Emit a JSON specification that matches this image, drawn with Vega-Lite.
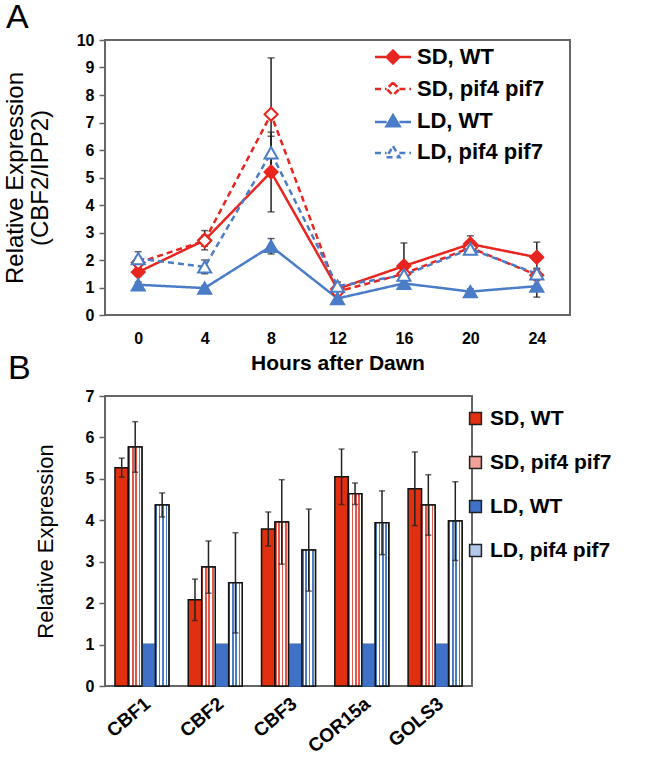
{
  "$schema": "https://vega.github.io/schema/vega-lite/v6.json",
  "padding": {"left": 2, "top": 0, "right": 0, "bottom": 0},
  "spacing": -23,
  "resolve": {
    "scale": {"color": "independent", "fill": "independent", "stroke": "independent", "strokeDash": "independent", "shape": "independent"},
    "legend": {"color": "independent", "fill": "independent", "stroke": "independent", "strokeDash": "independent", "shape": "independent"}
  },
  "config": {
    "font": "Liberation Sans",
    "view": {"stroke": "#666", "strokeWidth": 2},
    "axis": {"labelColor": "black", "titleColor": "black", "grid": false, "domain": false, "tickColor": "#666", "tickWidth": 1.5, "labelFont": "Liberation Sans", "titleFont": "Liberation Sans", "labelOverlap": false},
    "axisY": {"tickCount": 10, "labelFontSize": 16, "labelFontWeight": "bold", "tickSize": 6, "labelPadding": 5, "format": "d"},
    "legend": {"labelFont": "Liberation Sans", "labelColor": "black", "labelFontWeight": "bold", "labelLimit": 300}
  },
  "datasets": {
    "timecourse": [
      {"time": 0, "series": "SD, WT", "value": 1.56, "lo": 1.41, "hi": 1.71},
      {"time": 4, "series": "SD, WT", "value": 2.72, "lo": 2.37, "hi": 3.07},
      {"time": 8, "series": "SD, WT", "value": 5.2, "lo": 3.75, "hi": 6.65},
      {"time": 12, "series": "SD, WT", "value": 0.95, "lo": 0.85, "hi": 1.05},
      {"time": 16, "series": "SD, WT", "value": 1.78, "lo": 0.98, "hi": 2.62},
      {"time": 20, "series": "SD, WT", "value": 2.58, "lo": 2.28, "hi": 2.88},
      {"time": 24, "series": "SD, WT", "value": 2.1, "lo": 1.55, "hi": 2.65},
      {"time": 0, "series": "SD, pif4 pif7", "value": 1.9, "lo": 1.7, "hi": 2.1},
      {"time": 4, "series": "SD, pif4 pif7", "value": 2.7, "lo": 2.5, "hi": 2.9},
      {"time": 8, "series": "SD, pif4 pif7", "value": 7.3, "lo": 5.25, "hi": 9.35},
      {"time": 12, "series": "SD, pif4 pif7", "value": 0.85, "lo": 0.75, "hi": 0.95},
      {"time": 16, "series": "SD, pif4 pif7", "value": 1.5, "lo": 1.3, "hi": 1.7},
      {"time": 20, "series": "SD, pif4 pif7", "value": 2.45, "lo": 2.25, "hi": 2.65},
      {"time": 24, "series": "SD, pif4 pif7", "value": 1.45, "lo": 1.25, "hi": 1.65},
      {"time": 0, "series": "LD, WT", "value": 1.1, "lo": 1.0, "hi": 1.2},
      {"time": 4, "series": "LD, WT", "value": 0.98, "lo": 0.9, "hi": 1.06},
      {"time": 8, "series": "LD, WT", "value": 2.5, "lo": 2.22, "hi": 2.78},
      {"time": 12, "series": "LD, WT", "value": 0.6, "lo": 0.5, "hi": 0.7},
      {"time": 16, "series": "LD, WT", "value": 1.15, "lo": 1.0, "hi": 1.3},
      {"time": 20, "series": "LD, WT", "value": 0.85, "lo": 0.75, "hi": 0.95},
      {"time": 24, "series": "LD, WT", "value": 1.05, "lo": 0.65, "hi": 1.45},
      {"time": 0, "series": "LD, pif4 pif7", "value": 2.05, "lo": 1.8, "hi": 2.3},
      {"time": 4, "series": "LD, pif4 pif7", "value": 1.75, "lo": 1.5, "hi": 2.0},
      {"time": 8, "series": "LD, pif4 pif7", "value": 5.9, "lo": 5.3, "hi": 6.5},
      {"time": 12, "series": "LD, pif4 pif7", "value": 1.05, "lo": 0.9, "hi": 1.2},
      {"time": 16, "series": "LD, pif4 pif7", "value": 1.45, "lo": 1.3, "hi": 1.6},
      {"time": 20, "series": "LD, pif4 pif7", "value": 2.4, "lo": 2.25, "hi": 2.55},
      {"time": 24, "series": "LD, pif4 pif7", "value": 1.5, "lo": 1.3, "hi": 1.7}
    ],
    "genes": [
      {"gene": "CBF1", "series": "SD, WT", "value": 5.27, "lo": 5.04, "hi": 5.5},
      {"gene": "CBF1", "series": "SD, pif4 pif7", "value": 5.77, "lo": 5.16, "hi": 6.38},
      {"gene": "CBF1", "series": "LD, WT", "value": 1.0},
      {"gene": "CBF1", "series": "LD, pif4 pif7", "value": 4.37, "lo": 4.08, "hi": 4.66},
      {"gene": "CBF2", "series": "SD, WT", "value": 2.08, "lo": 1.58, "hi": 2.58},
      {"gene": "CBF2", "series": "SD, pif4 pif7", "value": 2.87, "lo": 2.24, "hi": 3.5},
      {"gene": "CBF2", "series": "LD, WT", "value": 1.0},
      {"gene": "CBF2", "series": "LD, pif4 pif7", "value": 2.49, "lo": 1.28, "hi": 3.7},
      {"gene": "CBF3", "series": "SD, WT", "value": 3.79, "lo": 3.38, "hi": 4.2},
      {"gene": "CBF3", "series": "SD, pif4 pif7", "value": 3.96, "lo": 2.94, "hi": 4.98},
      {"gene": "CBF3", "series": "LD, WT", "value": 1.0},
      {"gene": "CBF3", "series": "LD, pif4 pif7", "value": 3.28, "lo": 2.29, "hi": 4.27},
      {"gene": "COR15a", "series": "SD, WT", "value": 5.05, "lo": 4.38, "hi": 5.72},
      {"gene": "COR15a", "series": "SD, pif4 pif7", "value": 4.64, "lo": 4.38, "hi": 4.9},
      {"gene": "COR15a", "series": "LD, WT", "value": 1.0},
      {"gene": "COR15a", "series": "LD, pif4 pif7", "value": 3.94, "lo": 3.17, "hi": 4.71},
      {"gene": "GOLS3", "series": "SD, WT", "value": 4.76, "lo": 3.87, "hi": 5.65},
      {"gene": "GOLS3", "series": "SD, pif4 pif7", "value": 4.37, "lo": 3.64, "hi": 5.1},
      {"gene": "GOLS3", "series": "LD, WT", "value": 1.0},
      {"gene": "GOLS3", "series": "LD, pif4 pif7", "value": 3.98, "lo": 3.03, "hi": 4.93}
    ]
  },
  "vconcat": [
    {
      "width": 465,
      "height": 275,
      "title": {"text": "A", "anchor": "start", "frame": "group", "fontSize": 34, "fontWeight": "normal", "dx": -99, "offset": -3, "color": "black"},
      "data": {"name": "timecourse"},
      "encoding": {
        "x": {"field": "time", "type": "ordinal", "scale": {"type": "point", "padding": 0.5},
          "axis": {"title": "Hours after Dawn", "labelAngle": 0, "labelFontSize": 16, "labelFontWeight": "bold", "ticks": false, "labelPadding": 15, "titleFontSize": 21, "titleFontWeight": "bold", "titlePadding": 6}}
      },
      "layer": [
        {"mark": {"type": "rule", "color": "#222", "strokeWidth": 1.5},
         "encoding": {"y": {"field": "lo", "type": "quantitative", "scale": {"domain": [0, 10]},
           "axis": {"title": ["Relative Expression", "(CBF2/IPP2)"], "titleFontSize": 24, "titleFontWeight": "normal", "titleLineHeight": 25, "titlePadding": 24}},
           "y2": {"field": "hi"}}},
        {"mark": {"type": "tick", "color": "#222", "size": 7, "thickness": 1.5},
         "encoding": {"y": {"field": "lo", "type": "quantitative"}}},
        {"mark": {"type": "tick", "color": "#222", "size": 7, "thickness": 1.5},
         "encoding": {"y": {"field": "hi", "type": "quantitative"}}},
        {"mark": {"type": "line", "strokeWidth": 2.5},
         "encoding": {
           "y": {"field": "value", "type": "quantitative"},
           "stroke": {"field": "series", "type": "nominal", "scale": {"domain": ["SD, WT", "SD, pif4 pif7", "LD, WT", "LD, pif4 pif7"], "range": ["#e8251f", "#e8251f", "#4a7cc7", "#4a7cc7"]},
             "legend": {"title": null, "orient": "right", "offset": -194, "padding": 5, "symbolSize": 450, "symbolStrokeWidth": 2.5, "symbolOpacity": 1, "labelFontSize": 22, "labelOffset": 12, "rowPadding": 8}},
           "strokeDash": {"field": "series", "type": "nominal", "scale": {"domain": ["SD, WT", "SD, pif4 pif7", "LD, WT", "LD, pif4 pif7"], "range": [[1, 0], [6, 4], [1, 0], [6, 4]]},
             "legend": {"title": null, "orient": "right", "offset": -194, "padding": 5, "symbolSize": 450, "symbolStrokeWidth": 2.5, "symbolOpacity": 1, "labelFontSize": 22, "labelOffset": 12, "rowPadding": 8}}
         }},
        {"transform": [{"filter": "indexof(datum.series, 'SD') === 0"}],
         "mark": {"type": "point", "shape": "diamond", "size": 170, "strokeWidth": 2, "opacity": 1},
         "encoding": {
           "y": {"field": "value", "type": "quantitative"},
           "stroke": {"field": "series", "type": "nominal",
             "legend": {"title": null, "orient": "right", "offset": -194, "padding": 5, "symbolSize": 450, "symbolStrokeWidth": 2.5, "symbolOpacity": 1, "labelFontSize": 22, "labelOffset": 12, "rowPadding": 8}},
           "fill": {"field": "series", "type": "nominal", "scale": {"domain": ["SD, WT", "SD, pif4 pif7", "LD, WT", "LD, pif4 pif7"], "range": ["#e8251f", "white", "#4a7cc7", "white"]},
             "legend": {"title": null, "orient": "right", "offset": -194, "padding": 5, "symbolSize": 450, "symbolStrokeWidth": 2.5, "symbolOpacity": 1, "labelFontSize": 22, "labelOffset": 12, "rowPadding": 8}}
         }},
        {"transform": [{"filter": "indexof(datum.series, 'LD') === 0"}],
         "mark": {"type": "point", "shape": "triangle-up", "size": 170, "strokeWidth": 2, "opacity": 1},
         "encoding": {
           "y": {"field": "value", "type": "quantitative"},
           "stroke": {"field": "series", "type": "nominal",
             "legend": {"title": null, "orient": "right", "offset": -194, "padding": 5, "symbolSize": 450, "symbolStrokeWidth": 2.5, "symbolOpacity": 1, "labelFontSize": 22, "labelOffset": 12, "rowPadding": 8}},
           "fill": {"field": "series", "type": "nominal",
             "legend": {"title": null, "orient": "right", "offset": -194, "padding": 5, "symbolSize": 450, "symbolStrokeWidth": 2.5, "symbolOpacity": 1, "labelFontSize": 22, "labelOffset": 12, "rowPadding": 8}}
         }},
        {"mark": {"type": "point", "opacity": 0, "strokeWidth": 2.5},
         "encoding": {
           "y": {"field": "value", "type": "quantitative"},
           "shape": {"field": "series", "type": "nominal", "scale": {"domain": ["SD, WT", "SD, pif4 pif7", "LD, WT", "LD, pif4 pif7"], "range": ["M-1.7,0L-0.6,0M0.6,0L1.7,0M0,-0.6L0.6,0L0,0.6L-0.6,0Z", "M-1.7,0L-0.6,0M0.6,0L1.7,0M0,-0.6L0.6,0L0,0.6L-0.6,0Z", "M-1.7,0.1L-0.6,0.1M0.6,0.1L1.7,0.1M0,-0.55L0.62,0.5L-0.62,0.5Z", "M-1.7,0.1L-0.6,0.1M0.6,0.1L1.7,0.1M0,-0.55L0.62,0.5L-0.62,0.5Z"]},
             "legend": {"title": null, "orient": "right", "offset": -194, "padding": 5, "symbolSize": 450, "symbolStrokeWidth": 2.5, "symbolOpacity": 1, "labelFontSize": 22, "labelOffset": 12, "rowPadding": 8}},
           "stroke": {"field": "series", "type": "nominal",
             "legend": {"title": null, "orient": "right", "offset": -194, "padding": 5, "symbolSize": 450, "symbolStrokeWidth": 2.5, "symbolOpacity": 1, "labelFontSize": 22, "labelOffset": 12, "rowPadding": 8}},
           "fill": {"field": "series", "type": "nominal",
             "legend": {"title": null, "orient": "right", "offset": -194, "padding": 5, "symbolSize": 450, "symbolStrokeWidth": 2.5, "symbolOpacity": 1, "labelFontSize": 22, "labelOffset": 12, "rowPadding": 8}},
           "strokeDash": {"field": "series", "type": "nominal",
             "legend": {"title": null, "orient": "right", "offset": -194, "padding": 5, "symbolSize": 450, "symbolStrokeWidth": 2.5, "symbolOpacity": 1, "labelFontSize": 22, "labelOffset": 12, "rowPadding": 8}}
         }}
      ]
    },
    {
      "width": 367,
      "height": 290,
      "title": {"text": "B", "anchor": "start", "frame": "group", "fontSize": 34, "fontWeight": "normal", "dx": -97, "offset": 2, "color": "black"},
      "data": {"name": "genes"},
      "encoding": {
        "x": {"field": "gene", "type": "nominal", "scale": {"domain": ["CBF1", "CBF2", "CBF3", "COR15a", "GOLS3"], "paddingInner": 0.264, "paddingOuter": 0.136},
          "axis": {"title": null, "labelAngle": -40, "labelFontSize": 19, "labelFontWeight": "bold", "ticks": false, "labelPadding": 8}},
        "xOffset": {"field": "series", "type": "nominal", "scale": {"domain": ["SD, WT", "SD, pif4 pif7", "LD, WT", "LD, pif4 pif7"], "paddingInner": 0, "paddingOuter": 0}}
      },
      "layer": [
        {"mark": {"type": "bar", "stroke": "#111", "strokeWidth": 1.5},
         "encoding": {
           "y": {"field": "value", "type": "quantitative", "scale": {"domain": [0, 7]},
             "axis": {"title": "Relative Expression", "values": [0,1,2,3,4,5,6,7], "titleFontSize": 22, "titleFontWeight": "normal", "titlePadding": 28}},
           "color": {"field": "series", "type": "nominal", "scale": {"domain": ["SD, WT", "SD, pif4 pif7", "LD, WT", "LD, pif4 pif7"], "range": ["#e1300f", "#f1a197", "#3f72c6", "#b3c8ea"]},
             "legend": {"title": null, "orient": "right", "offset": -19, "padding": 12, "symbolType": "square", "symbolSize": 140, "symbolStrokeColor": "#222", "symbolStrokeWidth": 1.5, "labelFontSize": 21, "labelOffset": 4, "rowPadding": 22}}
         }},
        {"transform": [{"filter": "datum.series === 'LD, WT'"}],
         "mark": {"type": "bar", "fill": "#3f72c6", "stroke": "#3f72c6", "strokeWidth": 1.6},
         "encoding": {"y": {"field": "value", "type": "quantitative"}}},
        {"transform": [{"filter": "datum.series === 'SD, pif4 pif7'"}],
         "mark": {"type": "bar", "stroke": "#111", "strokeWidth": 1.5,
           "fill": {"gradient": "linear", "x1": 0, "y1": 0, "x2": 1, "y2": 0, "stops": [
             {"offset": 0, "color": "#e4574a"}, {"offset": 0.125, "color": "#e4574a"}, {"offset": 0.125, "color": "#ffffff"}, {"offset": 0.25, "color": "#ffffff"},
             {"offset": 0.25, "color": "#e4574a"}, {"offset": 0.375, "color": "#e4574a"}, {"offset": 0.375, "color": "#ffffff"}, {"offset": 0.5, "color": "#ffffff"},
             {"offset": 0.5, "color": "#e4574a"}, {"offset": 0.625, "color": "#e4574a"}, {"offset": 0.625, "color": "#ffffff"}, {"offset": 0.75, "color": "#ffffff"},
             {"offset": 0.75, "color": "#e4574a"}, {"offset": 0.875, "color": "#e4574a"}, {"offset": 0.875, "color": "#ffffff"}, {"offset": 1, "color": "#ffffff"}]}},
         "encoding": {"y": {"field": "value", "type": "quantitative"}}},
        {"transform": [{"filter": "datum.series === 'LD, pif4 pif7'"}],
         "mark": {"type": "bar", "stroke": "#111", "strokeWidth": 1.5,
           "fill": {"gradient": "linear", "x1": 0, "y1": 0, "x2": 1, "y2": 0, "stops": [
             {"offset": 0, "color": "#4a7cc7"}, {"offset": 0.125, "color": "#4a7cc7"}, {"offset": 0.125, "color": "#ffffff"}, {"offset": 0.25, "color": "#ffffff"},
             {"offset": 0.25, "color": "#4a7cc7"}, {"offset": 0.375, "color": "#4a7cc7"}, {"offset": 0.375, "color": "#ffffff"}, {"offset": 0.5, "color": "#ffffff"},
             {"offset": 0.5, "color": "#4a7cc7"}, {"offset": 0.625, "color": "#4a7cc7"}, {"offset": 0.625, "color": "#ffffff"}, {"offset": 0.75, "color": "#ffffff"},
             {"offset": 0.75, "color": "#4a7cc7"}, {"offset": 0.875, "color": "#4a7cc7"}, {"offset": 0.875, "color": "#ffffff"}, {"offset": 1, "color": "#ffffff"}]}},
         "encoding": {"y": {"field": "value", "type": "quantitative"}}},
        {"mark": {"type": "rule", "color": "#222", "strokeWidth": 1.5},
         "encoding": {"y": {"field": "lo", "type": "quantitative"}, "y2": {"field": "hi"}}},
        {"mark": {"type": "tick", "color": "#222", "size": 6, "thickness": 1.5},
         "encoding": {"y": {"field": "lo", "type": "quantitative"}}},
        {"mark": {"type": "tick", "color": "#222", "size": 6, "thickness": 1.5},
         "encoding": {"y": {"field": "hi", "type": "quantitative"}}}
      ]
    }
  ]
}
